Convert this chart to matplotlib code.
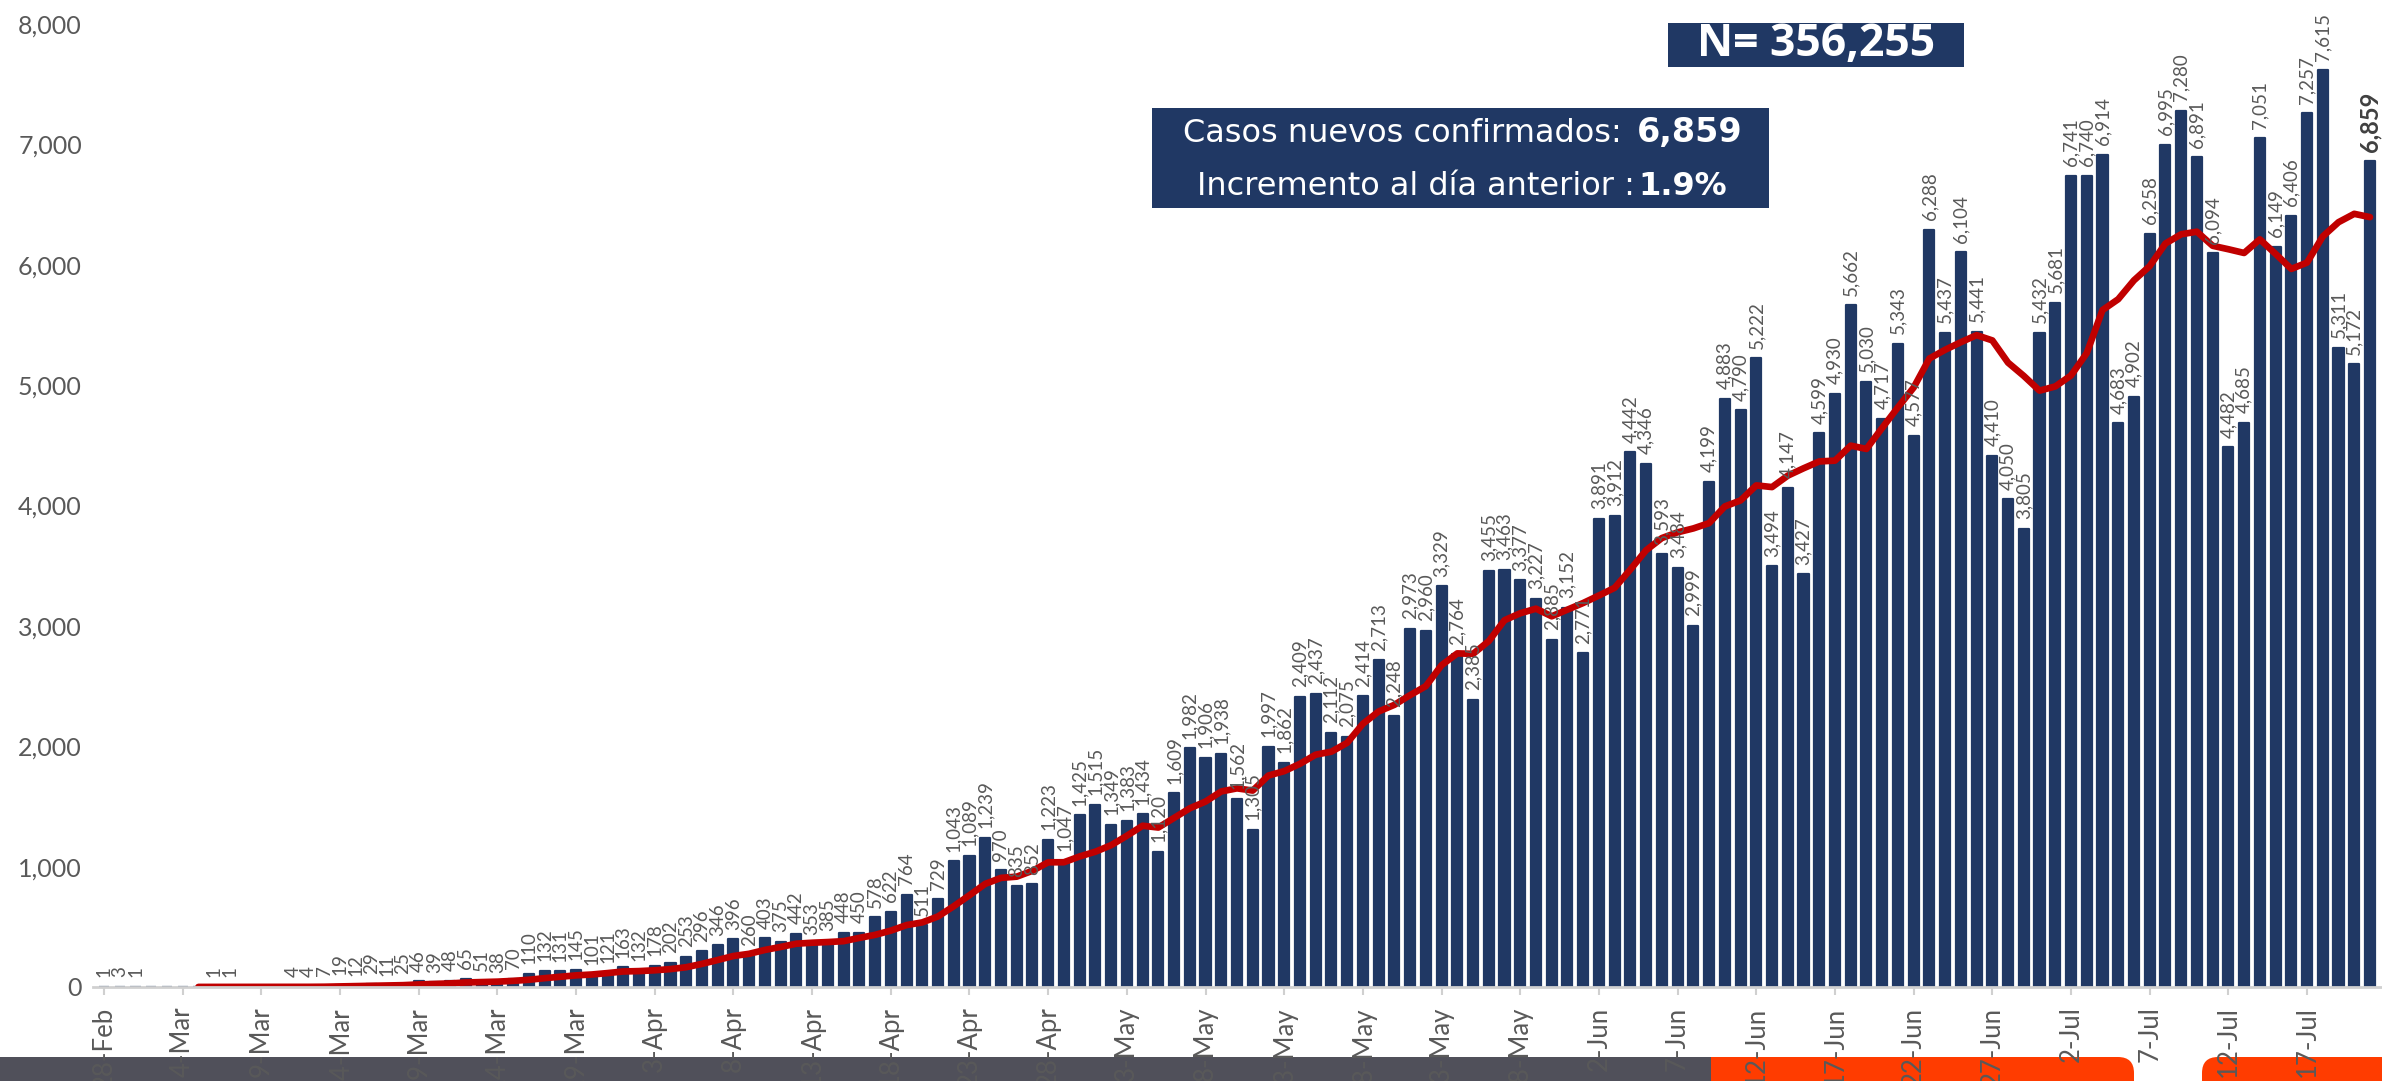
import numpy as np
import pandas as pd
import matplotlib
matplotlib.use('Agg')
import matplotlib.pyplot as plt
from matplotlib.patches import Rectangle, FancyBboxPatch
from matplotlib.transforms import IdentityTransform

# casos nuevos confirmados por dia (28-Feb a 21-Jul 2020)
feb = [1, 3]
mar = [1, 0, 0, 0, 0, 1, 1, 0, 0, 0, 4, 4, 7, 19, 12, 29, 11, 25, 46, 39,
       48, 65, 51, 38, 70, 110, 132, 131, 145, 101, 121]
abr = [163, 132, 178, 202, 253, 296, 346, 396, 260, 403, 375, 442, 353, 385,
       448, 450, 578, 622, 764, 511, 729, 1043, 1089, 1239, 970, 835, 852,
       1223, 1047, 1425]
may = [1515, 1349, 1383, 1434, 1120, 1609, 1982, 1906, 1938, 1562, 1305,
       1997, 1862, 2409, 2437, 2112, 2075, 2414, 2713, 2248, 2973, 2960,
       3329, 2764, 2385, 3455, 3463, 3377, 3227, 2885, 3152]
jun = [2771, 3891, 3912, 4442, 4346, 3593, 3484, 2999, 4199, 4883, 4790,
       5222, 3494, 4147, 3427, 4599, 4930, 5662, 5030, 4717, 5343, 4577,
       6288, 5437, 6104, 5441, 4410, 4050, 3805, 5432]
jul = [5681, 6741, 6740, 6914, 4683, 4902, 6258, 6995, 7280, 6891, 6094,
       4482, 4685, 7051, 6149, 6406, 7257, 7615, 5311, 5172, 6859]

casos = feb + mar + abr + may + jun + jul
fechas = pd.date_range('2020-02-28', periods=len(casos))
media7 = pd.Series(casos).rolling(7).mean()
etiquetas = [f"{d.day}-{d.strftime('%b')}" for d in fechas]

total_txt = 'N= 356,255'
nuevos_txt = '6,859'
incremento_txt = '1.9%'

W, H = 2382, 1081
azul = '#203864'
gris = '#595959'

fig = plt.figure(figsize=(W / 100, H / 100), dpi=100)
ax = fig.add_axes([93 / W, (H - 987) / H, (2381 - 93) / W, (987 - 24) / H])
ax.set_facecolor('none')

x = np.arange(len(casos))
ax.bar(x, casos, width=0.64, color=azul, edgecolor=azul, linewidth=1.6,
       joinstyle='round', zorder=2)
ax.plot(x, media7, color='#c00000', lw=4.8, solid_capstyle='round',
        solid_joinstyle='round', zorder=3)

for i, v in enumerate(casos):
    if v == 0:
        continue
    if i == len(casos) - 1:
        ax.annotate(f'{v:,}', (i, v), xytext=(0, 7), textcoords='offset points',
                    rotation=90, ha='center', va='bottom', fontsize=17,
                    fontweight='bold', color='#404040', family='Lato',
                    annotation_clip=False)
    else:
        ax.annotate(f'{v:,}', (i, v), xytext=(0, 7), textcoords='offset points',
                    rotation=90, ha='center', va='bottom', fontsize=13.5,
                    color=gris, family='Lato', annotation_clip=False)

ax.set_xlim(-0.7, len(casos) - 1 + 0.7)
ax.set_ylim(0, 8000)
ax.set_yticks(range(0, 8001, 1000))
ax.set_yticklabels([f'{t:,}' for t in range(0, 8001, 1000)], family='Lato')
ax.set_xticks(x[::5])
ax.set_xticklabels(etiquetas[::5], family='Lato', rotation=90, va='top')
ax.tick_params(axis='y', length=0, pad=8, labelsize=18, labelcolor=gris)
ax.tick_params(axis='x', length=6, width=1.5, color='#d0d0d0', pad=8,
               labelsize=18.5, labelcolor=gris)
for s in ['left', 'right', 'top']:
    ax.spines[s].set_visible(False)
ax.spines['bottom'].set_color('#d0d0d0')
ax.spines['bottom'].set_linewidth(2)
ax.spines['bottom'].set_zorder(4)

# franja inferior
px = IdentityTransform()
fig.patches.append(FancyBboxPatch((1660, -30), 2134 - 1660, 54,
                                  boxstyle='round,pad=0,rounding_size=16',
                                  fc='#ff3c00', ec='none', transform=px, zorder=-2))
fig.patches.append(FancyBboxPatch((2202, -30), 260, 54,
                                  boxstyle='round,pad=0,rounding_size=16',
                                  fc='#ff3c00', ec='none', transform=px, zorder=-2))
fig.patches.append(Rectangle((0, 0), 1711, 24, fc='#50505a', ec='none',
                             transform=px, zorder=-1))

# cuadros de texto
fig.patches.append(Rectangle((1668, H - 67), 1964 - 1668, 44, fc=azul, ec='none',
                             transform=px, zorder=5))
fig.patches.append(Rectangle((1152, H - 208), 1769 - 1152, 100, fc=azul, ec='none',
                             transform=px, zorder=5))
fig.text(1816 / W, (H - 45) / H, total_txt, ha='center', va='center',
         color='white', fontsize=32, fontweight='bold', family='Open Sans', zorder=6)
fig.text(1622 / W, (H - 142) / H, 'Casos nuevos confirmados:', ha='right',
         va='baseline', color='white', fontsize=23, family='DejaVu Sans', zorder=6)
fig.text(1637 / W, (H - 142) / H, nuevos_txt, ha='left', va='baseline',
         color='white', fontsize=24, fontweight='bold', family='DejaVu Sans', zorder=6)
fig.text(1635 / W, (H - 195) / H, 'Incremento al día anterior :', ha='right',
         va='baseline', color='white', fontsize=23, family='DejaVu Sans', zorder=6)
fig.text(1638 / W, (H - 195) / H, incremento_txt, ha='left', va='baseline',
         color='white', fontsize=23, fontweight='bold', family='DejaVu Sans', zorder=6)

fig.savefig('out.png', dpi=100)
